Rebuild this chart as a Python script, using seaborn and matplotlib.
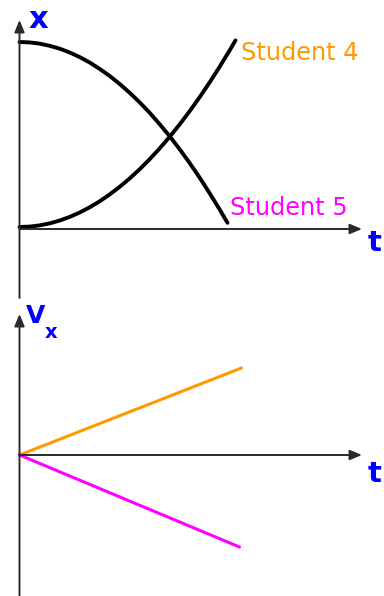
import matplotlib
matplotlib.use('Agg')
import pandas as pd
import matplotlib.pyplot as plt
import seaborn as sns

# x-t graph (1 unit = 20 px)
t_student4 = [0, 0.5, 1, 1.5, 2, 2.5, 3, 3.5, 4, 4.5, 5, 5.5, 6, 6.5, 7, 7.5,
              8, 8.5, 9, 9.5, 10, 10.5, 10.8]
x_student4 = [0.10, 0.12, 0.18, 0.28, 0.42, 0.60, 0.82, 1.08, 1.38, 1.72, 2.10, 2.52,
              2.98, 3.48, 4.02, 4.60, 5.22, 5.88, 6.58, 7.32, 8.10, 8.92, 9.43]
t_student5 = [0, 0.5, 1, 1.5, 2, 2.5, 3, 3.5, 4, 4.5, 5, 5.5, 6, 6.5, 7, 7.5,
              8, 8.5, 9, 9.5, 10, 10.4]
x_student5 = [9.35, 9.33, 9.27, 9.16, 9.02, 8.83, 8.60, 8.33, 8.01, 7.66, 7.26, 6.82,
              6.34, 5.82, 5.25, 4.65, 4.00, 3.31, 2.58, 1.80, 0.99, 0.31]

# vx-t graph
t_v4 = [0, 11.1]
vx_student4 = [0, 4.35]
t_v5 = [0, 11.0]
vx_student5 = [0, -4.6]

labels = ['Student 4', 'Student 5']
colors = {'Student 4': '#FF9900', 'Student 5': '#FF00FF'}
blue = '#0000FF'
axis_col = '#2a2a2a'

pos = pd.concat([
    pd.DataFrame({'t': t_student4, 'x': x_student4, 'who': labels[0]}),
    pd.DataFrame({'t': t_student5, 'x': x_student5, 'who': labels[1]}),
])
vel = pd.concat([
    pd.DataFrame({'t': t_v4, 'vx': vx_student4, 'who': labels[0]}),
    pd.DataFrame({'t': t_v5, 'vx': vx_student5, 'who': labels[1]}),
])

sns.set_style('white')
plt.rcParams['font.family'] = ['DejaVu Sans']

W, H = 384, 596
fig = plt.figure(figsize=(W / 100, H / 100), dpi=100)

# top panel occupies pixel rows 0..300, bottom 300..596
ax1 = fig.add_axes([0, 296 / H, 1, 300 / H])
ax2 = fig.add_axes([0, 0, 1, 296 / H])

px = 20.0
x0 = 19.5
ax1.set_xlim(-x0 / px, (W - x0) / px)
ax1.set_ylim((229 - 300) / px, 229 / px)
ax2.set_xlim(-x0 / px, (W - x0) / px)
ax2.set_ylim((455 - 596) / px, (455 - 300) / px)

arrow = dict(arrowstyle='-|>,head_length=0.6,head_width=0.25', color=axis_col,
             lw=1.4, mutation_scale=12, shrinkA=0, shrinkB=0)

# axes with arrows
ax1.annotate('', xy=(0, (229 - 20) / px), xytext=(0, (229 - 298) / px), arrowprops=arrow)
ax1.annotate('', xy=((362 - x0) / px, 0), xytext=(0, 0), arrowprops=arrow)
ax2.annotate('', xy=(0, (455 - 314) / px), xytext=(0, (455 - 600) / px), arrowprops=arrow,
             annotation_clip=False)
ax2.annotate('', xy=((362 - x0) / px, 0), xytext=(0, 0), arrowprops=arrow)

# position curves (black)
sns.lineplot(data=pos, x='t', y='x', units='who', estimator=None, color='black',
             linewidth=2.8, ax=ax1, legend=False, solid_joinstyle='round')
# velocity lines (coloured)
sns.lineplot(data=vel, x='t', y='vx', hue='who', palette=colors, linewidth=2.2,
             ax=ax2, legend=False)

for ax in (ax1, ax2):
    ax.axis('off')

# curve labels
ax1.annotate('Student 4', xy=(t_student4[-1], x_student4[-1]), xytext=(4, -9),
             textcoords='offset points', color=colors['Student 4'], fontsize=17.3,
             ha='left', va='center')
ax1.annotate('Student 5', xy=(t_student5[-1], x_student5[-1]), xytext=(2, 10.5),
             textcoords='offset points', color=colors['Student 5'], fontsize=17.3,
             ha='left', va='center')

# axis labels
fig.text(38 / W, 1 - 19 / H, 'x', color=blue, fontsize=22, fontweight='bold',
         ha='center', va='center')
fig.text(375 / W, 1 - 243 / H, 't', color=blue, fontsize=21, fontweight='bold',
         ha='center', va='center')
fig.text(375 / W, 1 - 474 / H, 't', color=blue, fontsize=21, fontweight='bold',
         ha='center', va='center')
fig.text(35.5 / W, 1 - 316 / H, 'V', color=blue, fontsize=18, fontweight='bold',
         ha='center', va='center')
fig.text(51.5 / W, 1 - 332 / H, 'x', color=blue, fontsize=14, fontweight='bold',
         ha='center', va='center')

fig.savefig('out.png', dpi=100)
